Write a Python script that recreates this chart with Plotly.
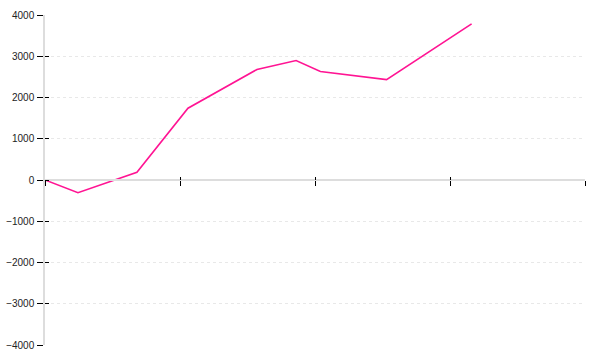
import plotly.graph_objects as go

# Data
x_vals = [0.0, 0.244, 0.681, 1.059, 1.57, 1.86, 2.04, 2.53, 3.16]
y_vals = [0, -308, 187, 1740, 2680, 2895, 2630, 2435, 3785]
y_ticks = [-4000, -3000, -2000, -1000, 0, 1000, 2000, 3000, 4000]
x_ticks = [0, 1, 2, 3, 4]

LINE_COLOR = "#ff1493"
AXIS_GRAY = "#dddddd"
GRID_GRAY = "#e8e8e8"

fig = go.Figure()
fig.add_trace(go.Scatter(x=x_vals, y=y_vals, mode="lines",
                         line=dict(color=LINE_COLOR, width=1.6),
                         hoverinfo="skip", showlegend=False))
# invisible trace to activate the overlay axes
fig.add_trace(go.Scatter(x=[None], y=[None], xaxis="x2", yaxis="y2",
                         showlegend=False, hoverinfo="skip"))

fig.update_layout(
    width=600, height=360,
    margin=dict(l=45, r=15, t=15, b=15, pad=0),
    paper_bgcolor="white", plot_bgcolor="rgba(0,0,0,0)",
    font=dict(family="Liberation Sans, Arial, sans-serif", size=10, color="#222222"),
    showlegend=False,
    xaxis=dict(range=[0, 4], tickvals=x_ticks, showticklabels=False,
               showgrid=False, zeroline=False, automargin=False,
               showline=True, linecolor=AXIS_GRAY, linewidth=1.5,
               ticks="outside", ticklen=5, tickwidth=1.2, tickcolor="#000000",
               anchor="free", position=0.5),
    xaxis2=dict(range=[0, 4], tickvals=x_ticks, showticklabels=False,
                showgrid=False, zeroline=False, showline=False, automargin=False,
                ticks="inside", ticklen=3, tickwidth=1.2, tickcolor="#000000",
                overlaying="x", side="bottom", anchor="free", position=0.5),
    yaxis=dict(range=[-4000, 4000], tickvals=y_ticks,
               ticktext=[str(v).replace("-", "\u2212") for v in y_ticks],
               showgrid=True, gridcolor=GRID_GRAY, griddash="dot", gridwidth=1,
               zeroline=False, automargin=False,
               showline=True, linecolor=AXIS_GRAY, linewidth=1.5,
               ticks="outside", ticklen=6, tickwidth=1.2, tickcolor="#000000",
               ticklabelstandoff=1),
    yaxis2=dict(range=[-4000, 4000], tickvals=y_ticks, showticklabels=False,
                showgrid=False, zeroline=False, showline=False, automargin=False,
                ticks="inside", ticklen=4, tickwidth=1.2, tickcolor="#000000",
                overlaying="y", side="left", anchor="x"),
)

fig.write_html("out.html")
